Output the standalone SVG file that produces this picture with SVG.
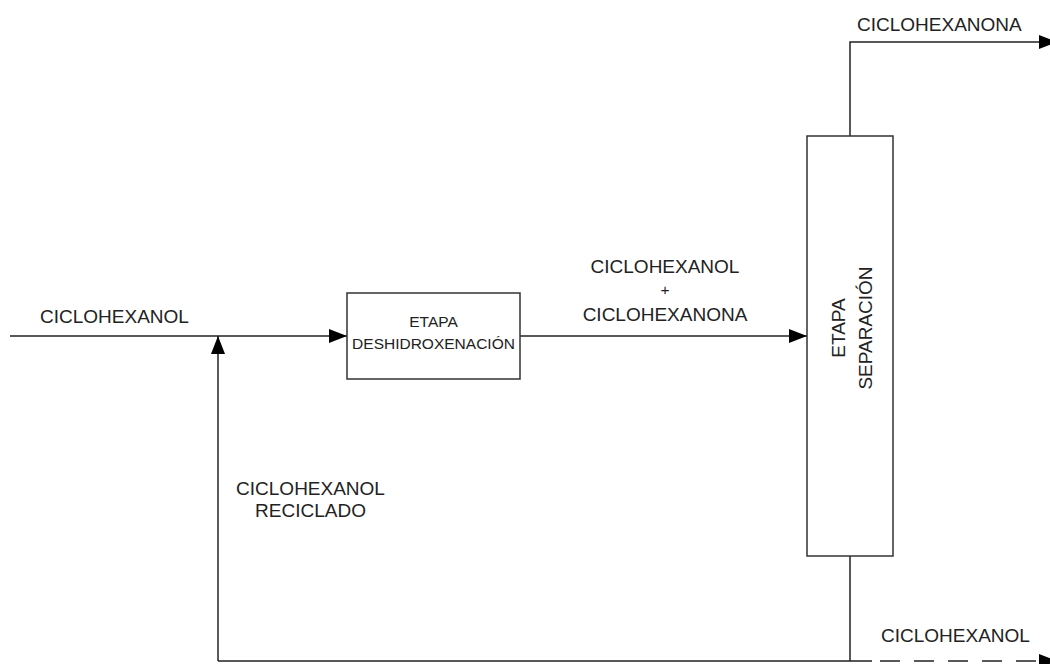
<svg xmlns="http://www.w3.org/2000/svg" width="1050" height="664" viewBox="0 0 1050 664">
<style>
.ln{fill:none;stroke:#222;stroke-width:1.5}
.box{fill:#fff;stroke:#333;stroke-width:1.5}
.t{font-family:"Liberation Sans",Arial,sans-serif;font-size:19px;fill:#222}
.s{font-family:"Liberation Sans",Arial,sans-serif;font-size:15.5px;fill:#222}
</style>
<defs>
<marker id="ah" viewBox="0 0 18 14" refX="18" refY="7" markerWidth="18" markerHeight="14" markerUnits="userSpaceOnUse" orient="auto">
<path d="M0,0 L18,7 L0,14 Z" fill="#000"/>
</marker>
</defs>
<rect width="1050" height="664" fill="#fff"/>
<g id="connectors">
<path class="ln" d="M10,336 H347" marker-end="url(#ah)"/>
<path class="ln" d="M218,661 V336" marker-end="url(#ah)"/>
<path class="ln" d="M520,336 H807" marker-end="url(#ah)"/>
<path class="ln" d="M850,136 V42 H1057" marker-end="url(#ah)"/>
<path class="ln" d="M850,556 V661 M218,661 H872"/>
<path class="ln" d="M880,661 H1057" stroke-dasharray="20 14" marker-end="url(#ah)"/>
</g>
<g id="deshidroxenacion">
<rect class="box" x="347" y="293" width="173" height="86"/>
<text class="s" x="433.5" y="327" text-anchor="middle">ETAPA</text>
<text class="s" x="433.5" y="349" text-anchor="middle">DESHIDROXENACIÓN</text>
</g>
<g id="separacion">
<rect class="box" x="807" y="136" width="86" height="420"/>
<g transform="translate(850,328) rotate(-90)">
<text class="t" x="0" y="-5" text-anchor="middle">ETAPA</text>
<text class="t" x="0" y="22" text-anchor="middle">SEPARACIÓN</text>
</g>
</g>
<g id="labels">
<text class="t" x="40" y="323">CICLOHEXANOL</text>
<text class="t" x="857" y="31">CICLOHEXANONA</text>
<text class="t" x="665" y="273" text-anchor="middle">CICLOHEXANOL</text>
<text class="s" x="665" y="295" text-anchor="middle">+</text>
<text class="t" x="665" y="321" text-anchor="middle">CICLOHEXANONA</text>
<text class="t" x="310.5" y="495" text-anchor="middle">CICLOHEXANOL</text>
<text class="t" x="310.5" y="517" text-anchor="middle">RECICLADO</text>
<text class="t" x="881" y="642">CICLOHEXANOL</text>
</g>
</svg>
